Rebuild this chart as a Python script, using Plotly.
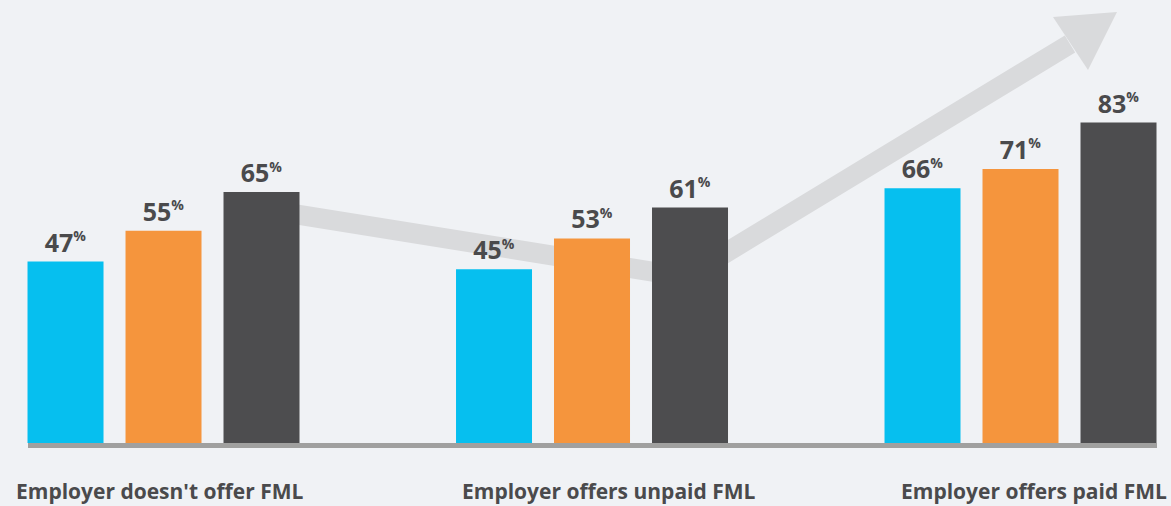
import plotly.graph_objects as go

categories = ["Employer doesn't offer FML", "Employer offers unpaid FML", "Employer offers paid FML"]
series_a = [47, 45, 66]
series_b = [55, 53, 71]
series_c = [65, 61, 83]
series_colors = ["#06bfef", "#f5953d", "#4d4d4f"]
label_xshift = [-4, 17, 13]

W, H = 1171, 506
PLOT_H = 443  # plot area height in px (margin top 0)
TXT = "#4a4a4c"
BG = "#f0f2f5"
FONT = "Open Sans"


def px(x):
    return x / W


def py(y):
    return (PLOT_H - y) / PLOT_H


fig = go.Figure()
for vals, col in zip([series_a, series_b, series_c], series_colors):
    fig.add_trace(go.Bar(
        x=categories, y=vals, marker=dict(color=col, line=dict(width=0)),
        texttemplate="%{y}<sup><span style='font-size:14px'>%</span></sup>",
        textposition="outside", cliponaxis=False,
        textfont=dict(family=FONT, size=25, color=TXT, weight="bold"),
        hoverinfo="skip",
    ))

# decorative trend arrow (behind bars)
shaft = [(250, 207), (686, 277), (1070, 44)]
path = "M " + " L ".join(f"{px(x):.5f},{py(y):.5f}" for x, y in shaft)
fig.add_shape(type="path", path=path, xref="paper", yref="paper",
              line=dict(color="#d9dadc", width=20), layer="below")
head = [(1053, 17), (1117, 12), (1088, 70)]
hpath = "M " + " L ".join(f"{px(x):.5f},{py(y):.5f}" for x, y in head) + " Z"
fig.add_shape(type="path", path=hpath, xref="paper", yref="paper",
              line=dict(width=0), fillcolor="#d9dadc", layer="below")

# baseline
fig.add_shape(type="line", xref="paper", yref="paper",
              x0=px(28), x1=px(1157), y0=py(445.5), y1=py(445.5),
              line=dict(color="#a0a09f", width=5))

for cat, xs in zip(categories, label_xshift):
    fig.add_annotation(x=cat, xref="x", y=py(490.5), yref="paper",
                       text=f"<b>{cat}</b>", showarrow=False, xshift=xs,
                       yanchor="middle",
                       font=dict(family=FONT, size=21, color=TXT))

fig.update_layout(
    width=W, height=H,
    margin=dict(l=0, r=0, t=0, b=H - PLOT_H),
    barmode="group", bargap=0.3139, bargroupgap=0.2245,
    paper_bgcolor=BG, plot_bgcolor=BG,
    showlegend=False,
    xaxis=dict(range=[-0.3816, 2.3512], showticklabels=False, showgrid=False,
               zeroline=False, showline=False, ticks=""),
    yaxis=dict(range=[0, PLOT_H / 3.86], visible=False, showgrid=False, zeroline=False),
)

fig.write_html("out.html", config={"displayModeBar": False},
               post_script="document.body.style.margin='0';document.body.style.overflow='hidden';")
